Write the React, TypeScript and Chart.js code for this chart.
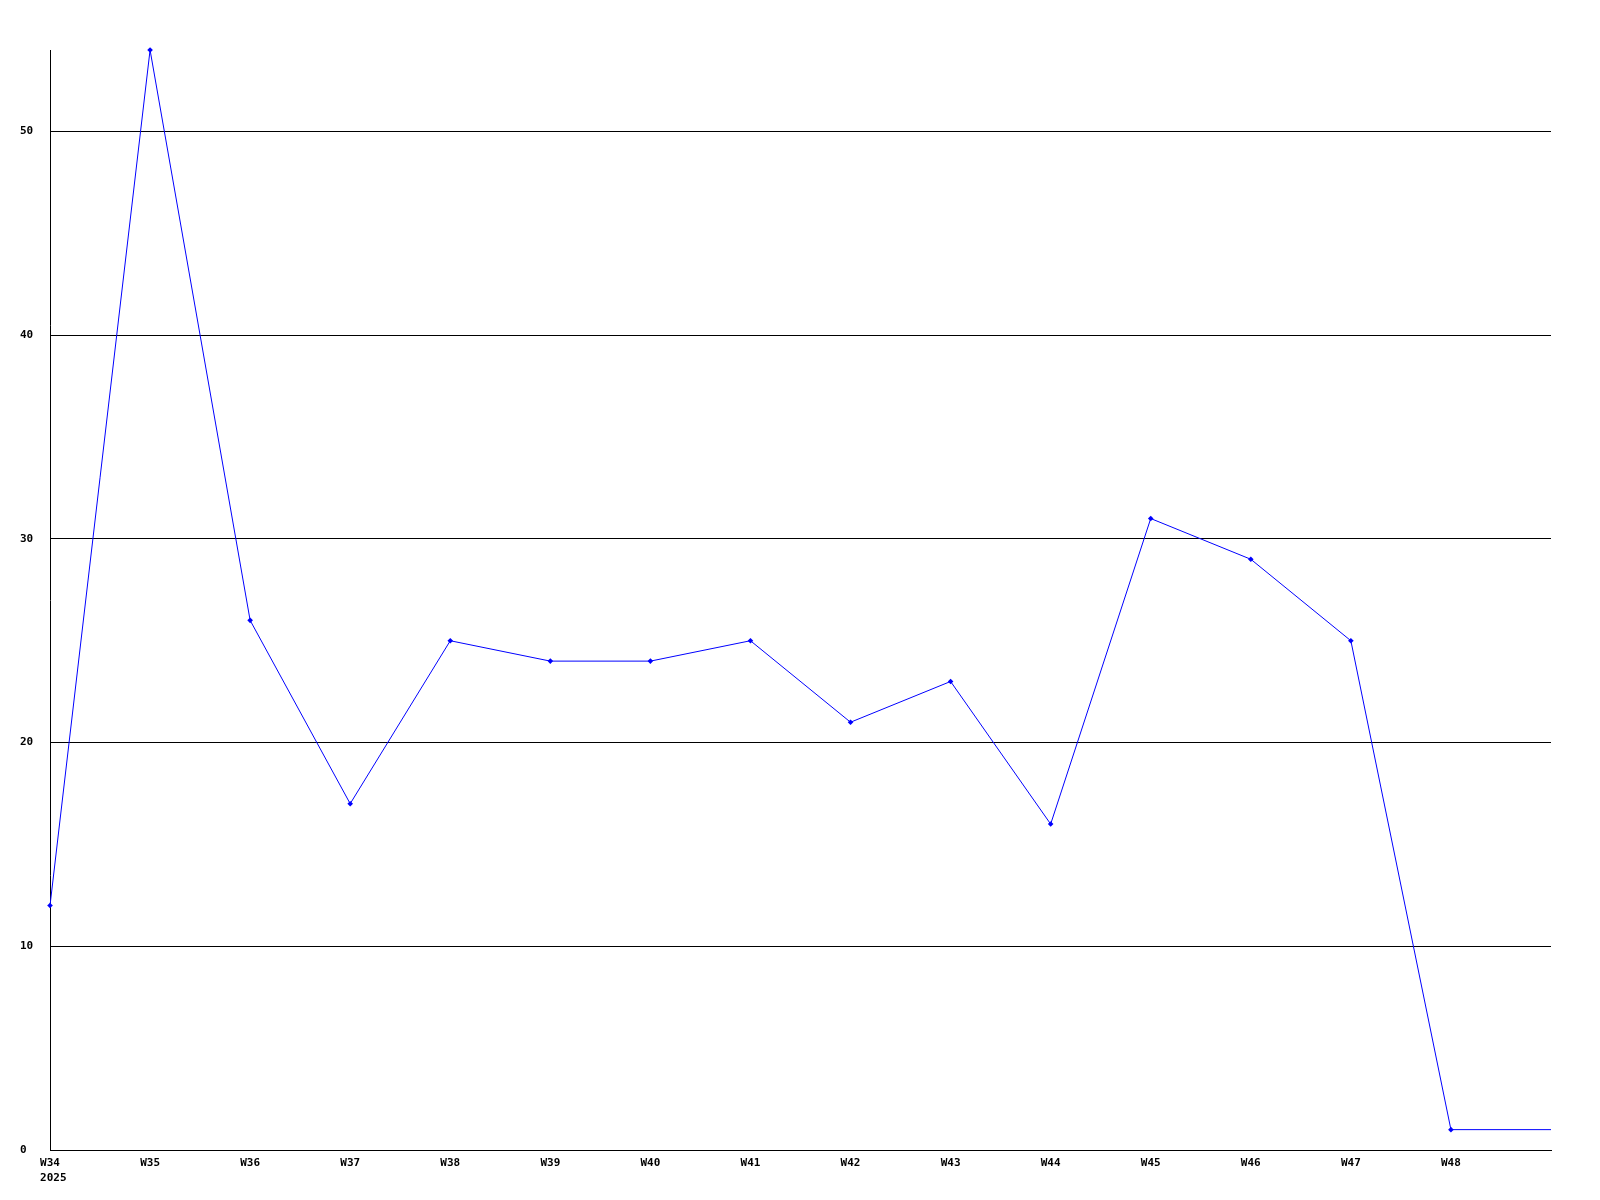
import React, { useEffect, useRef } from "react";
import { Chart, registerables } from "chart.js";

Chart.register(...registerables);

const weeks: (string | string[])[] = [
  ["W34", " 2025"], "W35", "W36", "W37", "W38", "W39", "W40", "W41",
  "W42", "W43", "W44", "W45", "W46", "W47", "W48", "",
];
const counts: number[] = [12, 54, 26, 17, 25, 24, 24, 25, 21, 23, 16, 31, 29, 25, 1, 1];
const yTicks: number[] = [0, 10, 20, 30, 40, 50];

export default function App() {
  const ref = useRef<HTMLCanvasElement | null>(null);

  useEffect(() => {
    document.body.style.margin = "0";
    const canvas = ref.current;
    if (!canvas) return;
    const font = { family: "'DejaVu Sans Mono', monospace", size: 11, weight: "bold" as const, lineHeight: "15px" };
    const chart = new Chart(canvas, {
      type: "line",
      data: {
        labels: weeks,
        datasets: [
          {
            data: counts,
            borderColor: "#0000ff",
            backgroundColor: "#0000ff",
            borderWidth: 1,
            pointStyle: "rectRot",
            pointRadius: counts.map((_, i) => (i === counts.length - 1 ? 0 : 2.8)),
            pointBorderWidth: 0,
            tension: 0,
            clip: false,
          },
        ],
      },
      options: {
        animation: false,
        responsive: false,
        maintainAspectRatio: false,
        layout: { padding: { top: 50, right: 49, left: 20, bottom: 0 } },
        plugins: { legend: { display: false }, tooltip: { enabled: false } },
        scales: {
          x: {
            type: "category",
            offset: false,
            grid: { display: false, drawTicks: false },
            border: { display: true, color: "#000000", width: 1 },
            ticks: {
              color: "#000000",
              font,
              padding: 6,
              maxRotation: 0,
              autoSkip: false,
            },
            afterFit: (scale: any) => {
              scale.height = 50;
            },
          },
          y: {
            min: 0,
            max: 54,
            grid: { color: "#000000", lineWidth: 1, drawTicks: false },
            border: { display: true, color: "#000000", width: 1 },
            afterBuildTicks: (scale: any) => {
              scale.ticks = yTicks.map((v) => ({ value: v }));
            },
            ticks: {
              color: "#000000",
              font,
              crossAlign: "far",
              padding: 4,
            },
            afterFit: (scale: any) => {
              scale.width = 30;
            },
          },
        },
      },
    });
    return () => chart.destroy();
  }, []);

  return (
    <div style={{ position: "absolute", left: 0, top: 0, width: 1600, height: 1200, background: "#ffffff" }}>
      <canvas ref={ref} width={1600} height={1200} style={{ width: 1600, height: 1200 }} />
    </div>
  );
}
